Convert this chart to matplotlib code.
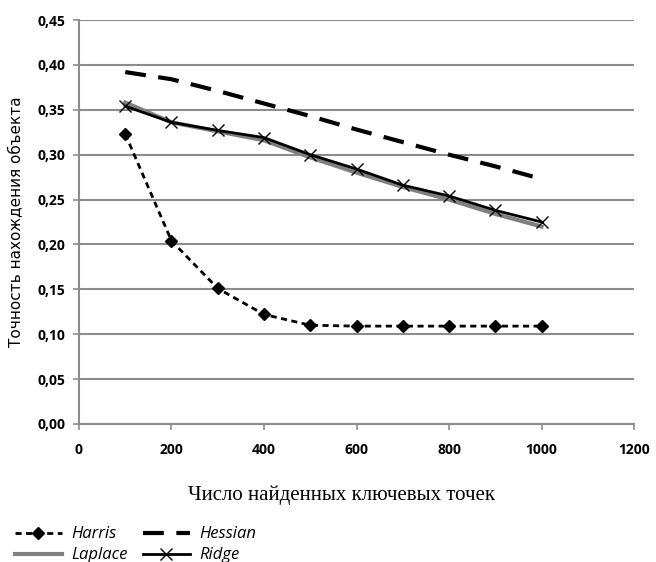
import matplotlib
matplotlib.use("Agg")
import matplotlib.pyplot as plt
from matplotlib.ticker import FuncFormatter

# число ключевых точек
points = [100, 200, 300, 400, 500, 600, 700, 800, 900, 1000]

harris = [0.323, 0.204, 0.151, 0.122, 0.110, 0.109, 0.109, 0.109, 0.109, 0.109]
hessian = [0.392, 0.384, 0.371, 0.357, 0.343, 0.328, 0.314, 0.300, 0.287, 0.273]
laplace = [0.358, 0.336, 0.326, 0.316, 0.297, 0.280, 0.264, 0.250, 0.234, 0.220]
ridge = [0.354, 0.336, 0.327, 0.319, 0.300, 0.284, 0.266, 0.254, 0.238, 0.225]

x_ticks = [0, 200, 400, 600, 800, 1000, 1200]
y_ticks = [0.00, 0.05, 0.10, 0.15, 0.20, 0.25, 0.30, 0.35, 0.40, 0.45]

fig = plt.figure(figsize=(6.56, 5.62), dpi=100)
ax = fig.add_axes([0.1204, 0.2456, 0.8461, 0.7188])

grid_c = '#8c8c8c'
ax.set_yticks(y_ticks)
ax.set_xticks(x_ticks)
ax.set_xlim(0, 1200)
ax.set_ylim(0, 0.45)
ax.yaxis.grid(True, color=grid_c, linewidth=1.5)
ax.set_axisbelow(True)
for s in ['top', 'right']:
    ax.spines[s].set_visible(False)
for s in ['left', 'bottom']:
    ax.spines[s].set_color(grid_c)
    ax.spines[s].set_linewidth(1.5)
ax.tick_params(colors=grid_c, width=1.2, length=4)

ax.yaxis.set_major_formatter(FuncFormatter(lambda v, p: f'{v:.2f}'.replace('.', ',')))
ax.xaxis.set_major_formatter(FuncFormatter(lambda v, p: f'{int(v)}'))
for lab in ax.get_xticklabels() + ax.get_yticklabels():
    lab.set_fontfamily('Open Sans')
    lab.set_fontweight('bold')
    lab.set_fontsize(10)
    lab.set_color('black')
ax.tick_params(axis='x', pad=10)
ax.tick_params(axis='y', pad=6)

h1, = ax.plot(points, harris, color='black', linestyle=(0, (2.2, 1.6)), linewidth=2,
              marker='D', markersize=6, label='Harris')
h2, = ax.plot(points, hessian, color='black', linestyle=(0, (5, 3)), linewidth=3,
              label='Hessian')
h3, = ax.plot(points, laplace, color='#7f7f7f', linewidth=3, label='Laplace')
h4, = ax.plot(points, ridge, color='black', linewidth=2, marker='x', markersize=9,
              markeredgewidth=1, label='Ridge')

ax.set_ylabel('Точность нахождения объекта', fontfamily='DejaVu Sans', fontsize=11)
ax.yaxis.set_label_coords(-0.1, 0.5)
fig.text(0.52, 0.118, 'Число найденных ключевых точек', fontfamily='Liberation Serif',
         fontsize=15, ha='center', va='center')

leg = fig.legend([h1, h3, h2, h4], ['Harris', 'Laplace', 'Hessian', 'Ridge'], ncol=2,
                 loc='upper left', bbox_to_anchor=(0.01, 0.078), frameon=False,
                 prop={'family': 'Open Sans', 'style': 'italic', 'size': 12},
                 handlelength=2.8, handletextpad=0.6, columnspacing=0.9,
                 labelspacing=0.3, borderpad=0)

fig.savefig('out.png', dpi=100)
